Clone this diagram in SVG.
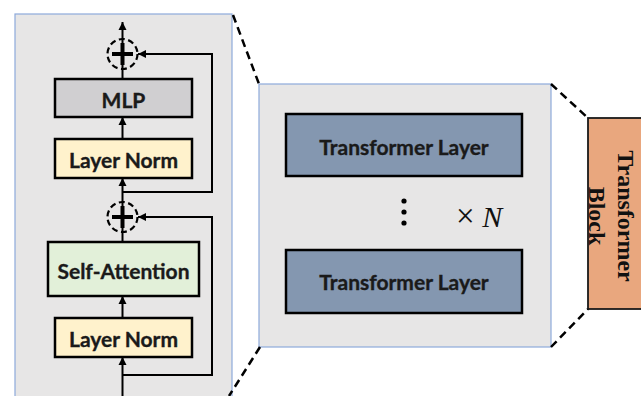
<svg xmlns="http://www.w3.org/2000/svg" width="641" height="396" viewBox="0 0 641 396">
  <defs>
    <marker id="arrow" viewBox="0 0 10 10" refX="10" refY="5" markerWidth="4.2" markerHeight="4.2" orient="auto" markerUnits="strokeWidth">
      <path d="M0,0 L10,5 L0,10 z" fill="#000"/>
    </marker>
    <style>
      .panel { fill: #e7e6e6; stroke: #8eaadb; stroke-width: 1.2; }
      .box { stroke: #000; stroke-width: 2.5; }
      .lbl { font-family: Lato, "Open Sans", sans-serif; font-weight: bold; font-size: 21px; fill: #1a1a1a; text-anchor: middle; dominant-baseline: central; stroke: #1a1a1a; stroke-width: 0.35; }
      .wire { fill: none; stroke: #000; stroke-width: 2; }
      .zoom { fill: none; stroke: #000; stroke-width: 2.5; stroke-dasharray: 8 5; }
      .ring { fill: none; stroke: #000; stroke-width: 2.2; stroke-dasharray: 6 3.5; }
      .plus { stroke: #000; stroke-width: 4; }
      .serif { font-family: "Liberation Serif", "Times New Roman", serif; fill: #111; }
    </style>
  </defs>

  <!-- expanded transformer layer -->
  <g id="layer-detail">
    <rect class="panel" x="15" y="14" width="217" height="392"/>
  </g>

  <g id="mlp">
    <rect class="box" x="55" y="79" width="137" height="38" fill="#d0cfd1"/>
    <text class="lbl" x="123.5" y="99">MLP</text>
  </g>
  <g id="norm-top">
    <rect class="box" x="55" y="139" width="137" height="39" fill="#fff2cc"/>
    <text class="lbl" x="123.5" y="159">Layer Norm</text>
  </g>
  <g id="self-attention">
    <rect class="box" x="48" y="242" width="151" height="54" fill="#e2f0d9"/>
    <text class="lbl" x="123.5" y="270">Self-Attention</text>
  </g>
  <g id="norm-bottom">
    <rect class="box" x="55" y="318" width="137" height="39" fill="#fff2cc"/>
    <text class="lbl" x="123.5" y="338">Layer Norm</text>
  </g>

  <g id="add-top">
    <circle class="ring" cx="122.5" cy="54" r="15"/>
    <line class="plus" x1="112" y1="54" x2="133" y2="54"/>
    <line class="plus" x1="122.5" y1="43" x2="122.5" y2="65"/>
  </g>
  <g id="add-bottom">
    <circle class="ring" cx="122.5" cy="217" r="15"/>
    <line class="plus" x1="112" y1="217" x2="133" y2="217"/>
    <line class="plus" x1="122.5" y1="206" x2="122.5" y2="228"/>
  </g>

  <!-- stack of layers -->
  <g id="layer-stack">
    <rect class="panel" x="259" y="84" width="292" height="263"/>
  </g>
  <g id="layer-1">
    <rect class="box" x="286" y="114" width="236" height="62" fill="#8497b0"/>
    <text class="lbl" x="404" y="146">Transformer Layer</text>
  </g>
  <g id="layer-n">
    <rect class="box" x="286" y="250" width="236" height="63" fill="#8497b0"/>
    <text class="lbl" x="404" y="281">Transformer Layer</text>
  </g>
  <g id="repeat">
    <circle cx="404" cy="201" r="2.6" fill="#000"/>
    <circle cx="404" cy="212" r="2.6" fill="#000"/>
    <circle cx="404" cy="223" r="2.6" fill="#000"/>
    <text class="serif" x="456" y="227" font-size="30"><tspan font-size="33">×</tspan> <tspan font-style="italic">N</tspan></text>
  </g>

  <!-- outer block -->
  <g id="block">
    <rect x="588" y="118" width="60" height="191" fill="#e9a77e" stroke="#1a1a1a" stroke-width="1.8"/>
    <text class="serif" transform="translate(618,216) rotate(90)" text-anchor="middle" font-size="24" font-weight="bold">Transformer</text>
    <text class="serif" transform="translate(589,216) rotate(90)" text-anchor="middle" font-size="24" font-weight="bold">Block</text>
  </g>

  <g id="connectors">
    <!-- residual path -->
    <line class="wire" x1="122.5" y1="400" x2="122.5" y2="357" marker-end="url(#arrow)"/>
    <path class="wire" d="M122.5,375 H212 V217 H138" marker-end="url(#arrow)"/>
    <line class="wire" x1="122.5" y1="318" x2="122.5" y2="296" marker-end="url(#arrow)"/>
    <line class="wire" x1="122.5" y1="242" x2="122.5" y2="202"/>
    <line class="wire" x1="122.5" y1="202" x2="122.5" y2="178" marker-end="url(#arrow)"/>
    <path class="wire" d="M122.5,192 H212 V54 H138" marker-end="url(#arrow)"/>
    <line class="wire" x1="122.5" y1="139" x2="122.5" y2="117" marker-end="url(#arrow)"/>
    <line class="wire" x1="122.5" y1="79" x2="122.5" y2="22" marker-end="url(#arrow)"/>
    <!-- zoom guides -->
    <line class="zoom" x1="233" y1="15" x2="259" y2="84"/>
    <line class="zoom" x1="260" y1="347" x2="229" y2="396"/>
    <line class="zoom" x1="551" y1="84" x2="588" y2="118"/>
    <line class="zoom" x1="551" y1="347" x2="588" y2="309"/>
  </g>
</svg>
